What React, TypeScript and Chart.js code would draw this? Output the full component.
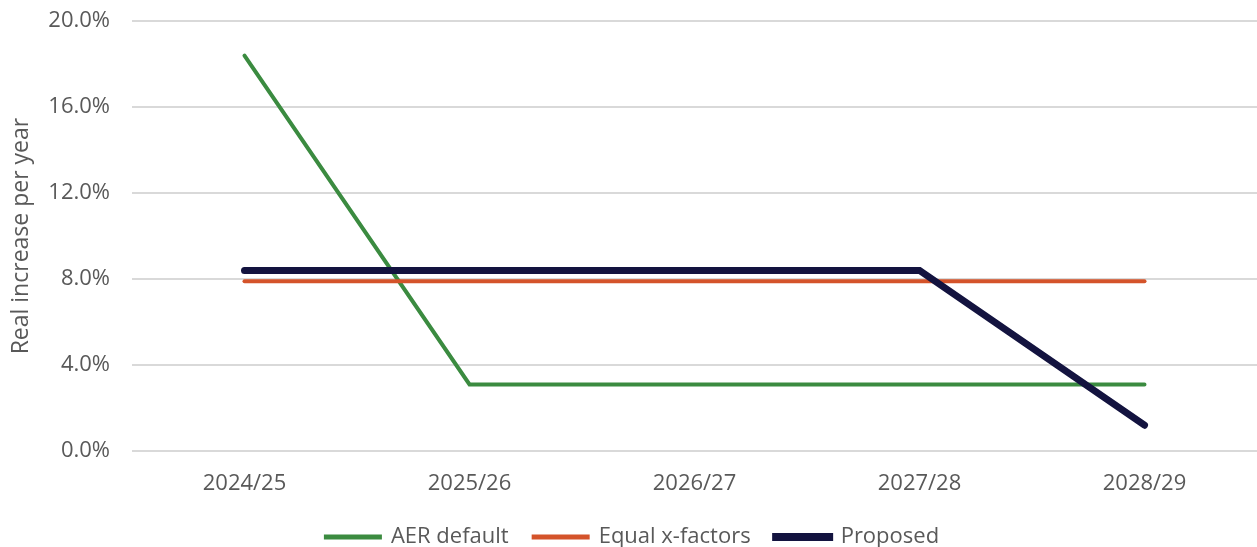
import React, { useEffect, useRef } from "react";
import { Chart, registerables } from "chart.js";

Chart.register(...registerables);

const categories = ["2024/25", "2025/26", "2026/27", "2027/28", "2028/29"];
const aerDefault = [18.4, 3.1, 3.1, 3.1, 3.1];
const equalXFactors = [7.9, 7.9, 7.9, 7.9, 7.9];
const proposed = [8.4, 8.4, 8.4, 8.4, 1.2];
const yTicks = [0, 4, 8, 12, 16, 20];

const FONT = "'Open Sans', 'Noto Sans', sans-serif";

export default function App() {
  const ref = useRef<HTMLCanvasElement | null>(null);

  useEffect(() => {
    if (!ref.current) return;
    const chart = new Chart(ref.current, {
      type: "line",
      data: {
        labels: categories,
        datasets: [
          {
            label: "AER default",
            data: aerDefault,
            borderColor: "#3b8b40",
            backgroundColor: "#3b8b40",
            borderWidth: 4,
            pointRadius: 0,
            tension: 0,
            borderCapStyle: "round",
            order: 3,
          },
          {
            label: "Equal x-factors",
            data: equalXFactors,
            borderColor: "#d4532a",
            backgroundColor: "#d4532a",
            borderWidth: 4,
            pointRadius: 0,
            tension: 0,
            borderCapStyle: "round",
            order: 2,
          },
          {
            label: "Proposed",
            data: proposed,
            borderColor: "#13133f",
            backgroundColor: "#13133f",
            borderWidth: 7,
            pointRadius: 0,
            tension: 0,
            borderCapStyle: "round",
            order: 1,
          },
        ],
      },
      options: {
        animation: false,
        responsive: true,
        maintainAspectRatio: false,
        layout: { padding: { left: 8, right: 0, top: 0, bottom: -11 } },
        plugins: {
          tooltip: { enabled: false },
          legend: {
            position: "bottom",
            labels: {
              boxWidth: 54,
              boxHeight: 1,
              padding: 25,
              color: "#595959",
              font: { family: FONT, size: 22 },
              sort: (a: any, b: any) => a.datasetIndex - b.datasetIndex,
            },
          },
        },
        scales: {
          x: {
            offset: true,
            afterFit: (axis: any) => {
              axis.height = 50;
            },
            grid: { display: false, drawTicks: false },
            border: { display: false },
            ticks: {
              color: "#595959",
              padding: 20,
              font: { family: FONT, size: 22 },
            },
          },
          y: {
            min: 0,
            max: 20,
            afterBuildTicks: (axis: any) => {
              axis.ticks = yTicks.map((v) => ({ value: v }));
            },
            afterFit: (axis: any) => {
              axis.width = 124;
            },
            grid: { color: "#d9d9d9", lineWidth: 2, drawTicks: false },
            border: { display: false },
            ticks: {
              color: "#595959",
              padding: 22,
              font: { family: FONT, size: 22 },
              callback: (v: any) => Number(v).toFixed(1) + "%",
            },
            title: {
              display: true,
              text: "Real increase per year",
              color: "#595959",
              font: { family: FONT, size: 23 },
              padding: { top: 0, bottom: 0 },
            },
          },
        },
      },
    });
    return () => chart.destroy();
  }, []);

  return (
    <div style={{ position: "fixed", left: 0, top: -14, width: 1257, height: 561, background: "#fff" }}>
      <canvas ref={ref} />
    </div>
  );
}
